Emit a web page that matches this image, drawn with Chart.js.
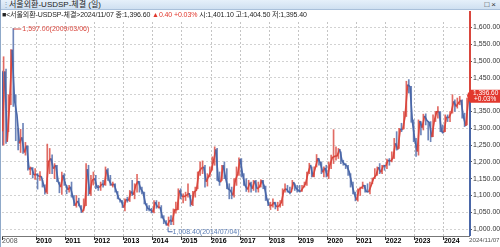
<!DOCTYPE html>
<html>
<head>
<meta charset="utf-8">
<script src="https://cdn.jsdelivr.net/npm/chart.js@4.4.1/dist/chart.umd.min.js"></script>
<style>
  html, body { margin: 0; padding: 0; background: #fff; }
  #wrap { position: relative; width: 500px; height: 247px; overflow: hidden; border-left: 1px solid #8fa9c9; box-sizing: border-box;
          font-family: "Liberation Sans", Arial, "Noto Sans CJK KR", sans-serif; }
  #titlebar { position: absolute; left: 0; top: 0; width: 500px; height: 10px; box-sizing: border-box;
              background: linear-gradient(#e6f0fa, #cfe0f1); border-bottom: 1px solid #a9c0da;
              font-size: 8px; line-height: 10px; color: #222; white-space: nowrap; }
  #titlebar .grip { position: absolute; left: 1px; top: 0; color: #8aa0b8; }
  #titlebar .name { position: absolute; left: 8px; top: 0; }
  #titlebar .icons { position: absolute; right: 3px; top: 0; font-size: 8px; color: #333; letter-spacing: 2px; }
  #info { position: absolute; left: 1px; top: 10px; height: 9px; font-size: 7px; line-height: 9px; color: #222; white-space: nowrap; z-index: 2; letter-spacing: -0.1px; }
  #info .up { color: #e0372c; }
  #chartbox { position: absolute; left: 0; top: 11px; width: 499px; height: 236px; }
</style>
</head>
<body>
<div id="wrap">
  <div id="titlebar"><span class="grip">⋮</span><span class="name">서울외환-USDSP-체결 (일)</span><span class="icons">□×</span></div>
  <div id="info">■&lt;서울외환-USDSP-체결&gt;2024/11/07 종:1,396.60 <span class="up">▲0.40 +0.03%</span> 시:1,401.10 고:1,404.50 저:1,395.40</div>
  <div id="chartbox"><canvas id="myChart"></canvas></div>
</div>
<script>
const ctx = document.getElementById('myChart');

// monthly bars, first = Oct 2008 (from late Oct), last = Nov 2024 (to 11/07)
const firstMonth = [2008, 10];
const firstOpen = 1467;

const monthHigh = [
  1470, 1513, 1476,
  1400, 1534, 1597, 1400, 1300, 1297, 1315, 1258, 1248, 1185, 1183, 1180,
  1165, 1171, 1146, 1132, 1253, 1240, 1221, 1195, 1190, 1140, 1170, 1165,
  1130, 1130, 1140, 1100, 1100, 1092, 1070, 1090, 1195, 1190, 1160, 1170,
  1160, 1130, 1140, 1145, 1185, 1180, 1160, 1140, 1135, 1112, 1090, 1085,
  1090, 1095, 1115, 1145, 1135, 1163, 1142, 1125, 1110, 1076, 1070, 1062,
  1085, 1085, 1080, 1070, 1040, 1025, 1036, 1040, 1060, 1080, 1120, 1120,
  1105, 1110, 1135, 1100, 1112, 1125, 1170, 1200, 1203, 1190, 1165, 1185,
  1215, 1245, 1240, 1170, 1190, 1200, 1180, 1135, 1125, 1150, 1185, 1212,
  1210, 1165, 1150, 1145, 1140, 1145, 1145, 1140, 1147, 1145, 1128, 1090,
  1080, 1090, 1080, 1080, 1085, 1120, 1135, 1130, 1125, 1145, 1135, 1130,
  1130, 1130, 1140, 1170, 1196, 1185, 1185, 1222, 1210, 1200, 1185, 1190,
  1200, 1220, 1296, 1245, 1240, 1230, 1205, 1195, 1190, 1165, 1140, 1110,
  1120, 1125, 1140, 1130, 1135, 1140, 1152, 1180, 1185, 1195, 1190, 1190,
  1208, 1210, 1230, 1270, 1290, 1300, 1315, 1350, 1440, 1445, 1425, 1325,
  1270, 1325, 1320, 1342, 1343, 1320, 1320, 1340, 1350, 1365, 1350, 1310,
  1340, 1340, 1350, 1400, 1385, 1390, 1395, 1385, 1345, 1390, 1404.5
];

const monthLow = [
  1250, 1250, 1255,
  1290, 1370, 1365, 1263, 1236, 1228, 1225, 1220, 1175, 1162, 1152, 1148,
  1119, 1145, 1125, 1104, 1105, 1165, 1165, 1150, 1141, 1108, 1103, 1130,
  1105, 1110, 1095, 1070, 1065, 1069, 1049, 1055, 1070, 1100, 1100, 1131,
  1120, 1115, 1115, 1125, 1130, 1145, 1130, 1125, 1110, 1090, 1080, 1064,
  1054, 1080, 1082, 1100, 1090, 1110, 1110, 1105, 1075, 1055, 1054, 1048,
  1048, 1062, 1062, 1033, 1016, 1012, 1008.4, 1013, 1013, 1047, 1058, 1090,
  1078, 1085, 1095, 1068, 1070, 1095, 1120, 1160, 1165, 1125, 1128, 1155,
  1175, 1190, 1145, 1130, 1145, 1150, 1120, 1090, 1090, 1095, 1130, 1160,
  1155, 1130, 1112, 1110, 1110, 1115, 1110, 1110, 1125, 1120, 1085, 1070,
  1058, 1065, 1060, 1055, 1065, 1070, 1110, 1110, 1105, 1120, 1115, 1110,
  1110, 1112, 1125, 1130, 1165, 1155, 1155, 1185, 1190, 1165, 1155, 1155,
  1150, 1180, 1195, 1205, 1210, 1195, 1190, 1180, 1160, 1125, 1105, 1084,
  1083, 1100, 1120, 1110, 1110, 1105, 1135, 1150, 1160, 1165, 1165, 1175,
  1180, 1190, 1200, 1210, 1235, 1240, 1290, 1298, 1335, 1405, 1318, 1260,
  1216, 1220, 1280, 1295, 1310, 1265, 1260, 1275, 1320, 1330, 1290, 1285,
  1290, 1320, 1320, 1345, 1350, 1360, 1370, 1330, 1305, 1310, 1380
];

const monthClose = [
  1291, 1469, 1260,
  1380, 1534, 1383, 1340, 1255, 1273, 1228, 1248, 1178, 1183, 1161, 1164,
  1157, 1157, 1131, 1109, 1200, 1210, 1180, 1190, 1141, 1125, 1160, 1134,
  1117, 1126, 1097, 1070, 1084, 1067, 1050, 1071, 1178, 1105, 1145, 1151,
  1125, 1124, 1134, 1131, 1177, 1145, 1130, 1134, 1112, 1090, 1084, 1064,
  1088, 1085, 1112, 1102, 1131, 1143, 1120, 1109, 1075, 1061, 1058, 1050,
  1080, 1065, 1065, 1035, 1022, 1011, 1027, 1022, 1057, 1058, 1115, 1097,
  1097, 1101, 1107, 1072, 1110, 1116, 1170, 1181, 1185, 1141, 1157, 1172,
  1202, 1237, 1144, 1140, 1190, 1152, 1120, 1115, 1100, 1145, 1165, 1208,
  1163, 1130, 1118, 1138, 1120, 1144, 1120, 1126, 1145, 1126, 1089, 1070,
  1070, 1080, 1066, 1069, 1079, 1115, 1120, 1110, 1109, 1140, 1122, 1115,
  1112, 1124, 1136, 1168, 1191, 1156, 1183, 1211, 1198, 1169, 1182, 1157,
  1191, 1213, 1217, 1218, 1238, 1203, 1193, 1188, 1169, 1135, 1106, 1086,
  1118, 1123, 1131, 1112, 1111, 1130, 1151, 1160, 1184, 1169, 1189, 1188,
  1205, 1202, 1212, 1255, 1237, 1298, 1296, 1337, 1430, 1424, 1319, 1264,
  1231, 1322, 1302, 1337, 1323, 1317, 1274, 1321, 1349, 1350, 1290, 1288,
  1334, 1331, 1347, 1380, 1365, 1376, 1384, 1335, 1307, 1380, 1396.6
];

// axes
const xMin = 2008.82;   // 2008/10/27
const xMax = 2024.86;   // 2024/11/07
const yearTicks = [2010, 2011, 2012, 2013, 2014, 2015, 2016, 2017, 2018, 2019, 2020, 2021, 2022, 2023, 2024];
const firstLabel = '2008';
const lastLabel = '2024/11/07';
const yTickValues = [1000, 1050, 1100, 1150, 1200, 1250, 1300, 1350, 1400, 1450, 1500, 1550, 1600];

const lastPrice = 1396.6;
const lastChange = '+0.03%';
const highDate = '2009/03/06';
const lowDate = '2014/07/04';

const RED = '#d9463d';
const BLUE = '#4a67a8';

const xTickValues = [xMin, ...yearTicks, xMax];

const monthStart = (i) => firstMonth[0] + (firstMonth[1] - 1 + i) / 12;
const monthCenter = (i) => {
  const a = Math.max(monthStart(i), xMin);
  const b = Math.min(monthStart(i) + 1 / 12, xMax);
  return (a + b) / 2;
};

const wicks = monthHigh.map((h, i) => ({ x: monthCenter(i), y: [monthLow[i], h] }));
const closes = monthClose.map((c, i) => ({ x: Math.min(monthStart(i) + 1 / 12, xMax), y: c }));
closes.unshift({ x: xMin, y: firstOpen });
const wickColors = monthClose.map((c, i) => {
  const open = i === 0 ? firstOpen : monthClose[i - 1];
  return c >= open ? 'rgba(217,70,61,0.8)' : 'rgba(74,103,168,0.8)';
});

const fmt = (v) => v.toLocaleString('en-US', { minimumFractionDigits: 2, maximumFractionDigits: 2 });

const overlay = {
  id: 'overlay',
  afterDraw(chart) {
    const c = chart.ctx;
    const area = chart.chartArea;
    const xs = chart.scales.x;
    const ys = chart.scales.y;
    const px = area.right + 1;
    const yLast = ys.getPixelForValue(lastPrice);

    c.save();
    // right axis line: red above last price, blue below
    c.lineWidth = 2;
    c.strokeStyle = RED;
    c.beginPath(); c.moveTo(px, 0); c.lineTo(px, yLast); c.stroke();
    c.strokeStyle = BLUE;
    c.beginPath(); c.moveTo(px, yLast); c.lineTo(px, area.bottom); c.stroke();

    // last price tag
    c.fillStyle = '#e2382e';
    c.beginPath();
    c.moveTo(px - 3, yLast);
    c.lineTo(px, yLast - 6);
    c.lineTo(chart.width, yLast - 6);
    c.lineTo(chart.width, yLast + 7);
    c.lineTo(px, yLast + 7);
    c.closePath();
    c.fill();
    c.fillStyle = '#fff';
    c.font = '6.5px "Liberation Sans", Arial, sans-serif';
    c.textAlign = 'left';
    c.textBaseline = 'middle';
    c.fillText(fmt(lastPrice), px + 3, yLast - 2.5);
    c.fillText(lastChange, px + 4, yLast + 3.5);

    // highest / lowest marks
    const hi = Math.max(...monthHigh);
    const lo = Math.min(...monthLow);
    const hx = xs.getPixelForValue(wicks[monthHigh.indexOf(hi)].x);
    const hy = ys.getPixelForValue(hi);
    c.lineWidth = 1;
    c.strokeStyle = RED;
    c.beginPath(); c.moveTo(hx, hy + 0.5); c.lineTo(hx + 8, hy + 0.5); c.stroke();
    c.fillStyle = RED;
    c.font = '7px "Liberation Sans", Arial, sans-serif';
    c.fillText(fmt(hi) + '(' + highDate + ')', hx + 9, hy + 1);

    const lx = xs.getPixelForValue(wicks[monthLow.indexOf(lo)].x);
    const ly = ys.getPixelForValue(lo);
    c.strokeStyle = BLUE;
    c.beginPath(); c.moveTo(lx - 0.5, ly + 1); c.lineTo(lx - 0.5, ly + 5.5); c.lineTo(lx + 4, ly + 5.5); c.stroke();
    c.fillStyle = '#5b7db5';
    c.fillText(fmt(lo) + '(' + lowDate + ')', lx + 4, ly + 6);
    c.restore();
  }
};

const lastIdx = xTickValues.length - 1;

new Chart(ctx, {
  type: 'bar',
  data: {
    datasets: [{
      type: 'line',
      data: closes,
      borderWidth: 1.6,
      pointRadius: 0,
      tension: 0,
      segment: {
        borderColor: (s) => s.p1.parsed.y >= s.p0.parsed.y ? RED : BLUE
      }
    }, {
      data: wicks,
      backgroundColor: wickColors,
      barThickness: 1,
      grouped: false
    }]
  },
  options: {
    responsive: true,
    maintainAspectRatio: false,
    animation: false,
    events: [],
    layout: { padding: { left: 1, top: 11, right: 0, bottom: 0 } },
    plugins: {
      legend: { display: false },
      tooltip: { enabled: false }
    },
    scales: {
      x: {
        type: 'linear',
        min: xMin,
        max: xMax,
        offset: false,
        afterBuildTicks: (scale) => { scale.ticks = xTickValues.map(v => ({ value: v })); },
        afterFit: (scale) => { scale.height = 11; scale.paddingLeft = 0; scale.paddingRight = 0; },
        grid: {
          offset: false,
          color: (c) => (c.index === 0 || c.index === lastIdx) ? 'rgba(0,0,0,0)' : '#c4c4c4',
          tickColor: (c) => c.index === lastIdx ? 'rgba(0,0,0,0)' : '#333',
          tickLength: 4,
          tickBorderDash: []
        },
        border: { display: true, color: '#777', dash: [2, 2] },
        ticks: {
          autoSkip: false,
          maxRotation: 0,
          align: 'start',
          padding: -3,
          color: (c) => (c.index === 0 || c.index === lastIdx) ? '#555' : '#000',
          font: (c) => ({
            size: c.index === lastIdx ? 6.2 : 7,
            family: '"Liberation Sans", Arial, sans-serif',
            weight: (c.index === 0 || c.index === lastIdx) ? 'normal' : 'bold'
          }),
          callback: (v, i) => i === 0 ? firstLabel : (i === lastIdx ? lastLabel : String(Math.round(v)))
        }
      },
      y: {
        position: 'right',
        min: 979.4,
        max: 1616.4,
        afterBuildTicks: (scale) => { scale.ticks = yTickValues.map(v => ({ value: v })); },
        afterFit: (scale) => { scale.width = 31; scale.paddingTop = 0; scale.paddingBottom = 0; },
        grid: {
          color: '#d2d2d2',
          tickColor: '#555',
          tickLength: 3,
          tickBorderDash: []
        },
        border: { display: false, dash: [2, 2] },
        ticks: {
          padding: 1,
          color: '#333',
          font: { size: 7, family: '"Liberation Sans", Arial, sans-serif' },
          callback: (v) => fmt(v)
        }
      }
    }
  },
  plugins: [overlay]
});
</script>
</body>
</html>
